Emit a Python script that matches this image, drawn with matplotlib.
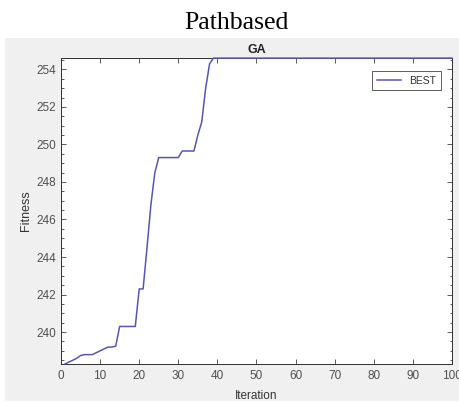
import matplotlib
matplotlib.use("Agg")
import matplotlib.pyplot as plt
from matplotlib.patches import Rectangle
from matplotlib.ticker import AutoMinorLocator

# best fitness per iteration
iterations = list(range(1, 101))
best = [238.3, 238.4, 238.5, 238.6, 238.75, 238.8, 238.8, 238.8, 238.9, 239.0,
        239.1, 239.2, 239.2, 239.25, 240.3, 240.3, 240.3, 240.3, 240.3, 242.3,
        242.3, 244.5, 246.8, 248.5, 249.3, 249.3, 249.3, 249.3, 249.3, 249.3,
        249.65, 249.65, 249.65, 249.65, 250.5, 251.2, 253.0, 254.3, 254.6, 254.6,
        254.6, 254.6, 254.6, 254.6, 254.6, 254.6, 254.6, 254.6, 254.6, 254.6,
        254.6, 254.6, 254.6, 254.6, 254.6, 254.6, 254.6, 254.6, 254.6, 254.6,
        254.6, 254.6, 254.6, 254.6, 254.6, 254.6, 254.6, 254.6, 254.6, 254.6,
        254.6, 254.6, 254.6, 254.6, 254.6, 254.6, 254.6, 254.6, 254.6, 254.6,
        254.6, 254.6, 254.6, 254.6, 254.6, 254.6, 254.6, 254.6, 254.6, 254.6,
        254.6, 254.6, 254.6, 254.6, 254.6, 254.6, 254.6, 254.6, 254.6, 254.6]
x_ticks = [0, 10, 20, 30, 40, 50, 60, 70, 80, 90, 100]
y_ticks = [240, 242, 244, 246, 248, 250, 252, 254]

plt.rcParams['font.family'] = ['Liberation Sans', 'DejaVu Sans']

fig = plt.figure(figsize=(4.6, 4.03), dpi=100)
fig.patch.set_facecolor('white')

# gray matlab figure panel
fig.patches.append(Rectangle((0.011, 0.005), 0.99, 0.90, transform=fig.transFigure,
                             facecolor='#f0f0f0', edgecolor='none', zorder=0))

fig.text(0.513, 0.943, 'Pathbased', family='Liberation Serif', fontsize=18.5,
         ha='center', va='center', color='black')

ax = fig.add_axes([0.1326, 0.0968, 0.85, 0.759])
ax.set_zorder(2)
ax.set_facecolor('white')
ax.plot(iterations, best, color='#5656b4', lw=1.1, label='BEST',
        clip_on=False, zorder=3)

ax.set_xlim(0, 100)
ax.set_ylim(238.3, 254.6)
ax.set_xticks(x_ticks)
ax.set_yticks(y_ticks)
ax.yaxis.set_minor_locator(AutoMinorLocator(4))
ax.tick_params(axis='both', which='both', direction='in', top=True, right=True,
               colors='#404040', labelcolor='#505050', labelsize=8.5, width=0.6)
ax.tick_params(which='major', length=3.5)
ax.tick_params(which='minor', length=1.8)
ax.tick_params(axis='x', pad=4)
for s in ax.spines.values():
    s.set_color('#303030')
    s.set_linewidth(0.7)

ax.set_title('GA', fontsize=9, fontweight='bold', color='#222222', pad=4)
ax.set_xlabel('Iteration', fontsize=8.5, color='#333333', labelpad=6)
ax.set_ylabel('Fitness', fontsize=9, color='#333333', labelpad=3)

leg = ax.legend(loc='upper right', fontsize=7.5, frameon=True, fancybox=False,
                handlelength=2.3, borderpad=0.45, bbox_to_anchor=(0.985, 0.975))
leg.get_frame().set_edgecolor('#333333')
leg.get_frame().set_linewidth(0.7)
for t in leg.get_texts():
    t.set_color('#333333')

fig.savefig('out.png', dpi=100)
